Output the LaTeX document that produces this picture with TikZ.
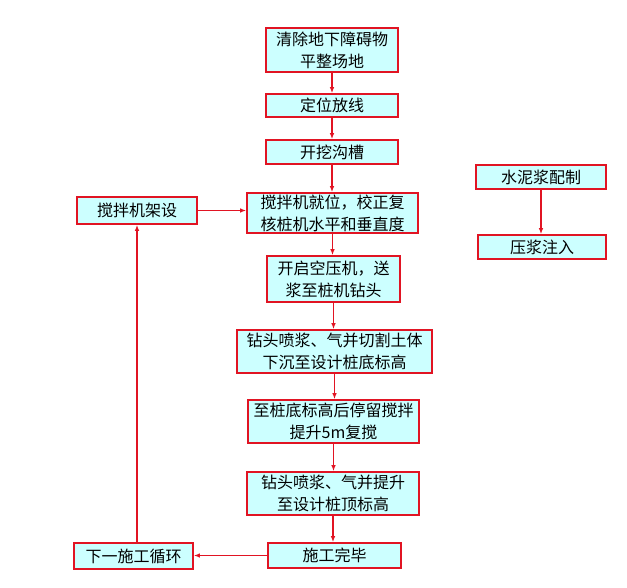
\documentclass[tikz,border=0pt]{standalone}
\usepackage{fontspec}
\setmainfont{Noto Sans CJK SC}
\usetikzlibrary{arrows.meta}
\definecolor{boxred}{RGB}{225,20,35}
\definecolor{boxfill}{RGB}{204,255,255}
\begin{document}
\begin{tikzpicture}[x=1pt,y=-1pt,
  flowbox/.style={draw=boxred,line width=1.6pt,fill=boxfill,inner sep=0pt,align=center,
    font=\fontsize{16}{22}\selectfont},
  flowarrow/.style={draw=boxred,line width=1.2pt,-{Latex[length=6pt,width=4.5pt]}}]
\useasboundingbox (0,0) rectangle (627,587);
\node[flowbox,minimum width=132pt,minimum height=44pt] (b1) at (332,50) {清除地下障碍物\\平整场地};
\node[flowbox,minimum width=132pt,minimum height=23pt] (b2) at (332,105.5) {定位放线};
\node[flowbox,minimum width=132pt,minimum height=24pt] (b3) at (332,152) {开挖沟槽};
\node[flowbox,minimum width=171pt,minimum height=40pt] (b4) at (332.5,213) {搅拌机就位，校正复\\核桩机水平和垂直度};
\node[flowbox,minimum width=133pt,minimum height=46pt] (b5) at (333.5,279) {开启空压机，送\\浆至桩机钻头};
\node[flowbox,minimum width=195pt,minimum height=43pt] (b6) at (334.5,351.5) {钻头喷浆、气并切割土体\\下沉至设计桩底标高};
\node[flowbox,minimum width=171pt,minimum height=43pt] (b7) at (333.5,421.5) {至桩底标高后停留搅拌\\提升5m复搅};
\node[flowbox,minimum width=172pt,minimum height=43pt] (b8) at (333,493.5) {钻头喷浆、气并提升\\至设计桩顶标高};
\node[flowbox,minimum width=133pt,minimum height=25pt] (b9) at (334.5,555.5) {施工完毕};
\node[flowbox,minimum width=120pt,minimum height=27pt] (l1) at (137,210.5) {搅拌机架设};
\node[flowbox,minimum width=119pt,minimum height=26pt] (l2) at (133.5,556) {下一施工循环};
\node[flowbox,minimum width=130pt,minimum height=24pt] (r1) at (541,177) {水泥浆配制};
\node[flowbox,minimum width=128pt,minimum height=24pt] (r2) at (542,247) {压浆注入};
\draw[flowarrow] (b1.south) -- (b1.south |- b2.north);
\draw[flowarrow] (b2.south) -- (b2.south |- b3.north);
\draw[flowarrow] (b3.south) -- (b3.south |- b4.north);
\draw[flowarrow] (b4.south) -- (b4.south |- b5.north);
\draw[flowarrow] (b5.south) -- (b5.south |- b6.north);
\draw[flowarrow] (b6.south) -- (b6.south |- b7.north);
\draw[flowarrow] (b7.south) -- (b7.south |- b8.north);
\draw[flowarrow] (b8.south) -- (b8.south |- b9.north);
\draw[flowarrow] (b9.west) -- (b9.west -| l2.east);
\draw[flowarrow] (l1.south |- l2.north) -- (l1.south);
\draw[flowarrow] (l1.east) -- (l1.east -| b4.west);
\draw[flowarrow] (r1.south) -- (r1.south |- r2.north);
\end{tikzpicture}
\end{document}
